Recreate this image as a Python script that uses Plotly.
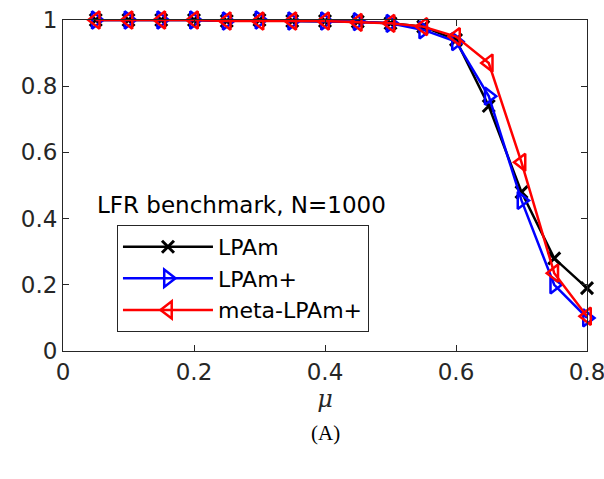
import plotly.graph_objects as go

mu = [0.05, 0.10, 0.15, 0.20, 0.25, 0.30, 0.35, 0.40, 0.45, 0.50, 0.55, 0.60, 0.65, 0.70, 0.75, 0.80]
lpam = [1.00, 1.00, 1.00, 1.00, 0.997, 1.00, 0.997, 0.997, 0.995, 0.99, 0.98, 0.94, 0.74, 0.48, 0.28, 0.19]
lpam_plus = [1.00, 1.00, 1.00, 1.00, 0.997, 1.00, 0.997, 0.997, 0.995, 0.99, 0.97, 0.935, 0.77, 0.455, 0.20, 0.10]
meta_lpam_plus = [1.00, 1.00, 1.00, 1.00, 0.997, 0.997, 0.997, 0.997, 0.993, 0.99, 0.98, 0.95, 0.87, 0.57, 0.235, 0.105]

x_ticks = [0, 0.2, 0.4, 0.6, 0.8]
y_ticks = [0, 0.2, 0.4, 0.6, 0.8, 1]

FONT = "DejaVu Sans"

fig = go.Figure()
fig.add_trace(go.Scatter(x=mu, y=lpam, name="LPAm", mode="lines+markers", cliponaxis=False,
                         line=dict(color="black", width=2.5),
                         marker=dict(symbol="x-thin", size=12, line=dict(color="black", width=3))))
fig.add_trace(go.Scatter(x=mu, y=lpam_plus, name="LPAm+", mode="lines+markers", cliponaxis=False,
                         line=dict(color="#0000ff", width=2.5),
                         marker=dict(symbol="triangle-right-open", size=15, color="#0000ff",
                                     line=dict(color="#0000ff", width=2.5))))
fig.add_trace(go.Scatter(x=mu, y=meta_lpam_plus, name="meta-LPAm+", mode="lines+markers", cliponaxis=False,
                         line=dict(color="#ff0000", width=2.5),
                         marker=dict(symbol="triangle-left-open", size=15, color="#ff0000",
                                     line=dict(color="#ff0000", width=2.5))))

axis_common = dict(showline=True, linecolor="#262626", linewidth=1, mirror="ticks",
                   ticks="inside", ticklen=6, tickcolor="#262626", showgrid=False,
                   zeroline=False, automargin=False, ticklabeloverflow="allow",
                   tickfont=dict(family=FONT, size=23, color="#262626"))

fig.update_xaxes(range=[0, 0.8], tickvals=x_ticks, ticktext=["0", "0.2", "0.4", "0.6", "0.8"],
                 title=dict(text="<i>μ</i>", font=dict(family="DejaVu Serif", size=24, color="#262626"),
                            standoff=2),
                 **axis_common)
fig.update_yaxes(range=[0, 1], tickvals=y_ticks, ticktext=["0", "0.2", "0.4", "0.6", "0.8", "1"],
                 **axis_common)

fig.add_annotation(text="LFR benchmark, N=1000", x=0.273, y=0.441, xref="x", yref="y",
                   showarrow=False, font=dict(family=FONT, size=23, color="black"))
fig.add_annotation(text="(A)", x=0.5, y=-0.248, xref="paper", yref="paper", yanchor="middle",
                   showarrow=False, font=dict(family="Liberation Serif, DejaVu Serif", size=21, color="black"))

fig.update_layout(
    width=604, height=479,
    margin=dict(l=63, r=17, t=20, b=128),
    paper_bgcolor="white", plot_bgcolor="white",
    showlegend=True,
    legend=dict(x=0.103, y=0.381, xanchor="left", yanchor="top",
                bgcolor="white", bordercolor="#262626", borderwidth=1,
                font=dict(family=FONT, size=22, color="black"),
                tracegroupgap=0, itemwidth=90),
)

fig.write_html("out.html",
               config={"displayModeBar": False},
               post_script="document.body.style.margin='0';"
                           "document.documentElement.style.overflow='hidden';")
